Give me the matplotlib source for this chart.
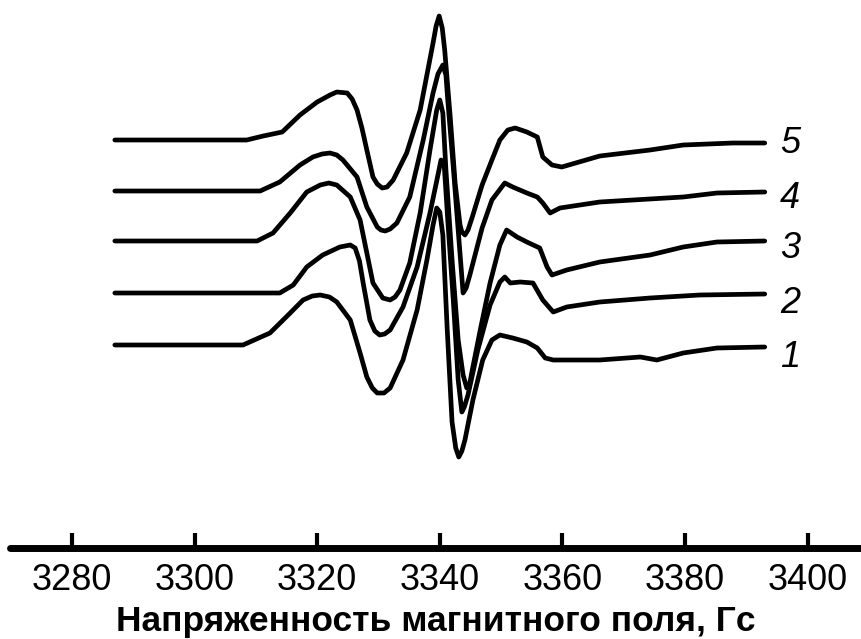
import matplotlib
matplotlib.use("Agg")
import matplotlib.pyplot as plt

plt.rcParams['font.family'] = ['Liberation Sans', 'DejaVu Sans']

# Field (G) and intensity (a.u., relative to each baseline)
field_1 = [3287.0, 3307.9, 3309.0, 3312.3, 3315.6, 3317.7, 3319.2, 3320.5, 3322.0, 3323.2,
           3325.4, 3327.0, 3328.1, 3329.0, 3329.8, 3330.9, 3331.9, 3334.0, 3336.3, 3337.9,
           3338.9, 3339.5, 3340.0, 3340.5, 3341.2, 3342.0, 3342.6, 3343.1, 3343.6, 3344.1,
           3345.4, 3347.0, 3348.5, 3349.8, 3351.9, 3354.2, 3355.9, 3357.2, 3358.5, 3366.1,
           3372.7, 3375.4, 3379.7, 3385.2, 3393.0]
signal_1 = [0, 0, 3, 12, 32, 45, 49, 50, 48, 43,
            25, -8, -32, -43, -48, -48, -43, -15, 35, 85,
            120, 137, 133, 110, 17, -77, -103, -112, -106, -95,
            -55, -15, 5, 10, 7, 3, -3, -13, -15, -15,
            -12, -15, -8, -3, -2]

field_2 = [3287.0, 3313.9, 3316.1, 3318.3, 3320.9, 3323.7, 3325.4, 3326.2, 3326.9, 3327.5,
           3328.6, 3329.4, 3330.2, 3331.0, 3331.9, 3334.0, 3336.3, 3338.4, 3339.7, 3340.2,
           3340.7, 3341.3, 3342.2, 3343.0, 3343.6, 3344.0, 3344.6, 3346.2, 3348.2, 3349.8,
           3350.6, 3351.5, 3353.1, 3355.2, 3356.8, 3358.5, 3360.7, 3366.1, 3374.3, 3382.4,
           3393.0]
signal_2 = [0, 0, 8, 26, 38, 46, 48, 45, 32, 10,
            -27, -38, -42, -41, -37, -14, 26, 80, 118, 133,
            130, 73, -7, -87, -119, -114, -102, -57, -12, 11,
            16, 10, 11, 10, -7, -19, -14, -9, -5, -2,
            -1]

field_3 = [3287.0, 3310.2, 3312.8, 3315.6, 3318.3, 3320.5, 3321.9, 3323.2, 3325.4, 3327.0,
           3328.1, 3329.1, 3330.7, 3331.9, 3332.7, 3333.5, 3335.1, 3336.8, 3338.4, 3339.5,
           3340.0, 3340.5, 3341.0, 3342.0, 3343.0, 3343.8, 3344.4, 3344.9, 3345.3, 3346.6,
           3348.2, 3349.8, 3350.9, 3352.6, 3354.2, 3356.3, 3357.5, 3358.3, 3360.7, 3366.1,
           3374.3, 3379.7, 3385.2, 3393.0]
signal_3 = [0, 0, 8, 28, 49, 56, 58, 56, 44, 21,
            -12, -42, -57, -59, -56, -49, -22, 28, 91, 131,
            141, 128, 71, -19, -99, -134, -147, -142, -129, -89,
            -42, -4, 11, 4, -1, -7, -26, -34, -29, -21,
            -14, -6, -1, 0]

field_4 = [3287.0, 3310.7, 3313.9, 3317.2, 3319.3, 3320.8, 3322.1, 3323.2, 3324.2, 3326.5,
           3328.1, 3329.8, 3330.4, 3331.1, 3331.9, 3333.0, 3335.1, 3337.3, 3338.9, 3339.7,
           3340.5, 3341.0, 3341.3, 3342.2, 3343.0, 3343.8, 3344.3, 3344.9, 3346.9, 3348.5,
           3350.6, 3351.9, 3354.2, 3355.9, 3356.8, 3358.0, 3359.6, 3366.1, 3371.5, 3379.7,
           3385.2, 3393.0]
signal_4 = [0, 0, 9, 26, 34, 37, 38, 36, 31, 14,
            -16, -36, -39, -40, -38, -32, -6, 51, 98, 117,
            126, 116, 91, 24, -39, -102, -97, -84, -37, -9,
            8, 4, -2, -6, -12, -22, -17, -11, -9, -6,
            -2, -1]

field_5 = [3287.0, 3308.5, 3311.2, 3314.3, 3317.2, 3320.0, 3322.1, 3323.2, 3324.9, 3325.7,
           3326.5, 3327.3, 3328.1, 3329.1, 3329.8, 3330.6, 3331.4, 3332.4, 3334.6, 3336.8,
           3338.9, 3339.4, 3339.9, 3340.4, 3340.8, 3341.7, 3342.5, 3343.3, 3343.6, 3344.1,
           3344.6, 3345.3, 3346.9, 3348.5, 3349.8, 3351.1, 3352.3, 3354.2, 3355.9, 3356.8,
           3358.3, 3359.9, 3366.1, 3374.3, 3379.7, 3387.8, 3393.0]
signal_5 = [0, 0, 4, 8, 25, 38, 45, 48, 47, 41,
            30, 12, -10, -37, -44, -48, -47, -40, -13, 30,
            97, 114, 124, 112, 90, 23, -43, -85, -92, -95,
            -90, -77, -45, -20, 0, 10, 12, 8, 3, -17,
            -25, -27, -16, -10, -5, -3, -3]

baseline_offsets = [203, 255, 307, 357, 408]
curve_labels = ['1', '2', '3', '4', '5']
label_field = 3395.5
label_level = [181, 235, 290, 340, 395]
x_ticks = [3280, 3300, 3320, 3340, 3360, 3380, 3400]
x_label = 'Напряженность магнитного поля, Гс'

fields = [field_1, field_2, field_3, field_4, field_5]
signals = [signal_1, signal_2, signal_3, signal_4, signal_5]

W, H = 861, 639
fig = plt.figure(figsize=(W / 100, H / 100), dpi=100)
ax = fig.add_axes([10 / W, (H - 548) / H, (W - 10) / W, 548 / H])

for f, s, off, lab, ly in zip(fields, signals, baseline_offsets, curve_labels, label_level):
    ys = [v + off for v in s]
    ax.plot(f, ys, color='black', lw=3.4, solid_joinstyle='round', solid_capstyle='round')
    ax.text(label_field, ly, lab, fontsize=26, style='italic', ha='left', va='baseline')

ax.set_xlim(3269.9, 3408.7)
ax.set_ylim(0, 548)
ax.set_xticks(x_ticks)
ax.set_yticks([])
for side in ['top', 'right', 'left']:
    ax.spines[side].set_visible(False)
ax.spines['bottom'].set_linewidth(5)
ax.spines['bottom'].set_capstyle('round')
ax.tick_params(axis='x', direction='in', length=11, width=3, pad=11, labelsize=26)
ax.set_xlabel(x_label, fontsize=25.5, fontweight='bold', labelpad=5)
ax.patch.set_visible(False)

fig.savefig('out.png', dpi=100)
